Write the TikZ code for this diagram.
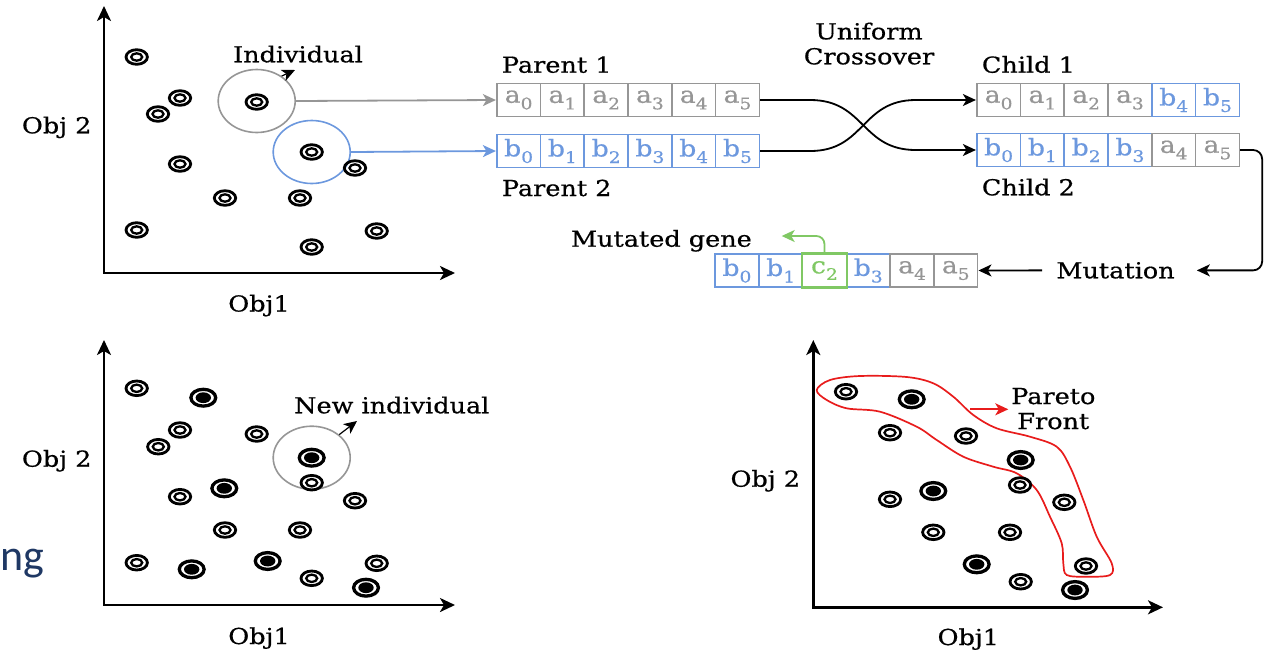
\documentclass[tikz,border=0pt]{standalone}
\usepackage{fontspec}
\setmainfont{DejaVu Serif}[FakeStretch=1.16,FakeBold=0.6]
\newfontfamily\slidefont{Carlito}
\usetikzlibrary{arrows.meta,shapes.geometric}

\definecolor{cellgray}{RGB}{150,150,150}
\definecolor{geneblue}{RGB}{108,152,222}
\definecolor{genegreen}{RGB}{128,200,100}
\definecolor{frontred}{RGB}{232,28,28}
\definecolor{slidenavy}{RGB}{31,56,100}

% gene label with a lowered index digit
\newcommand\gene[2]{#1\raisebox{-0.55ex}{\fontsize{16}{16}\selectfont #2}}

% one chromosome: name, left x, centre y, list of colour/letter/index
\newcommand\generow[4]{%
  \foreach \c/\l/\d [count=\i from 0] in {#4} {
    \node[cell, draw=\c, text=\c] (#1-\i) at ({#2+21.9+43.77*\i}, #3) {\gene{\l}{\d}};
  }}

\tikzset{
  tip/.style={-{Stealth[length=13pt,width=12pt,inset=3.5pt]}},
  axis/.style={line width=2.5pt, {Stealth[length=15pt,width=14pt,inset=4pt]}-{Stealth[length=15pt,width=14pt,inset=4pt]}},
  flow/.style={line width=1.8pt, tip},
  cell/.style={draw, line width=1.6pt, minimum width=43.8pt, minimum height=33pt, inner sep=0pt,
               font=\fontsize{23}{25}\selectfont},
  pick/.style={draw, ellipse, line width=1.6pt, minimum width=77pt, minimum height=63pt, inner sep=0pt},
  lbl/.style={inner sep=0pt},
  ringdot/.pic={
    \draw[line width=2.8pt] (0,0) ellipse [x radius=10.7, y radius=7.3];
    \draw[line width=2.3pt] (0,0) ellipse [x radius=5.5, y radius=3.7];},
  ringfill/.pic={
    \draw[line width=3.3pt] (0,0) ellipse [x radius=12.4, y radius=8.4];
    \fill (0,0) ellipse [x radius=7.7, y radius=5.4];},
}

\begin{document}
\begin{tikzpicture}[x=1pt,y=-1pt,font=\fontsize{22}{25}\selectfont]
\useasboundingbox (0,0) rectangle (1276,649);

% ---------- population before variation ----------
\coordinate (o1) at (104,273);
\coordinate (y1) at (104,6);
\coordinate (x1) at (455,273);
\draw[axis] (y1) -- (o1) -- (x1);
\node[lbl, anchor=base] (obj2a) at (56.7,133.3) {Obj 2};
\node[lbl, anchor=base] (obj1a) at (259,311.5) {Obj1};

\node[pick, draw=cellgray] (ind) at (256.7,101) {};
\node[pick, draw=geneblue] (mate) at (311.7,152) {};
\foreach \p in {(136.7,57),(180,98),(158,114),(256.7,102),(311.7,152),(355,168),
                (180,164),(225,198),(300,198),(136.7,230),(311.7,247),(376.7,231)}
  \pic at \p {ringdot};
\node[lbl, anchor=base] (indlbl) at (298,62.3) {Individual};
\coordinate (indtip) at (295,70);
\draw[line width=1.2pt, tip] (ind.45) -- (indtip);

% ---------- parents ----------
\node[lbl, anchor=base west] (p1lbl) at (501.7,72.7) {Parent 1};
\node[lbl, anchor=base west] (p2lbl) at (501.7,196) {Parent 2};
\generow{par1}{496.7}{100}{cellgray/a/0,cellgray/a/1,cellgray/a/2,cellgray/a/3,cellgray/a/4,cellgray/a/5}
\generow{par2}{496.7}{151}{geneblue/b/0,geneblue/b/1,geneblue/b/2,geneblue/b/3,geneblue/b/4,geneblue/b/5}
\draw[flow, cellgray] (ind.east) -- (par1-0.west);
\draw[flow, geneblue] (mate.east) -- (par2-0.west);

% ---------- crossover ----------
\node[lbl, align=center, anchor=base] (uxlbl) at (869,64.3) {Uniform\\Crossover};
\node[lbl, anchor=base west] (c1lbl) at (981.7,72.7) {Child 1};
\node[lbl, anchor=base west] (c2lbl) at (981.7,195.3) {Child 2};
\generow{chi1}{976.7}{100}{cellgray/a/0,cellgray/a/1,cellgray/a/2,cellgray/a/3,geneblue/b/4,geneblue/b/5}
\generow{chi2}{976.7}{150}{geneblue/b/0,geneblue/b/1,geneblue/b/2,geneblue/b/3,cellgray/a/4,cellgray/a/5}
\draw[flow] (par1-5.east) -- ++(50,0) .. controls +(55,0) and +(-55,0) .. ([xshift=-60pt]chi2-0.west) -- (chi2-0.west);
\draw[flow] (par2-5.east) -- ++(50,0) .. controls +(55,0) and +(-55,0) .. ([xshift=-60pt]chi1-0.west) -- (chi1-0.west);

% ---------- mutation ----------
\node[anchor=base, inner xsep=14pt, inner ysep=0pt] (mut) at (1115.5,278.3) {Mutation};
\generow{mrow}{715}{270.5}{geneblue/b/0,geneblue/b/1,genegreen/c/2,geneblue/b/3,cellgray/a/4,cellgray/a/5}
\draw[genegreen, line width=1.6pt] (mrow-2.south west) rectangle (mrow-2.north east);
\draw[flow, rounded corners=9pt] (chi2-5.east) -- ++(22,0) |- ([xshift=8pt]mut.east);
\draw[flow] (mut.west) -- (mrow-5.east);
\node[lbl, anchor=base east] (mglbl) at (752,246.7) {Mutated gene};
\coordinate (gtip) at (781.7,236);
\draw[line width=1.8pt, genegreen, rounded corners=8pt, tip] (mrow-2.north) |- (gtip);

% ---------- population after variation ----------
\coordinate (o2) at (104,605);
\coordinate (y2) at (104,340);
\coordinate (x2) at (455,605);
\draw[axis] (y2) -- (o2) -- (x2);
\node[lbl, anchor=base] (obj2b) at (56.7,466.7) {Obj 2};
\node[lbl, anchor=base] (obj1b) at (259,644) {Obj1};
\node[pick, draw=cellgray] (newind) at (311.7,457.7) {};
\foreach \p in {(136.7,388.3),(180,430),(158.3,446.7),(256.7,434),(311.7,482.7),(355,500.7),
                (180,496.7),(225,530),(300,530),(136.7,562.7),(311.7,578.3),(376.7,563.3)}
  \pic at \p {ringdot};
\foreach \p in {(203.3,397.7),(311.7,457.7),(224.3,488.3),(191.7,569.3),(267.7,561),(366,587.7)}
  \pic at \p {ringfill};
\node[lbl, anchor=base west] (newlbl) at (294,413.3) {New individual};
\coordinate (newtip) at (357,421);
\draw[line width=1.2pt, tip] (newind.40) -- (newtip);

% ---------- Pareto front ----------
\coordinate (o3) at (813.3,607.3);
\coordinate (y3) at (813.3,340);
\coordinate (x3) at (1163,607.3);
\draw[axis] (y3) -- (o3) -- (x3);
\node[lbl, anchor=base] (obj2c) at (765.3,486.7) {Obj 2};
\node[lbl, anchor=base] (obj1c) at (968.3,645) {Obj1};
\draw[frontred, line width=1.7pt] plot[smooth cycle, tension=0.55] coordinates {
  (816.7,390) (830,380) (860,376) (906.7,377) (933.3,383.3) (953.3,396.7) (973.3,415)
  (996.7,428.3) (1030,436.7) (1056.7,446.7) (1070,466.7) (1083.3,500) (1096.7,536.7)
  (1111.7,563.3) (1110,575) (1086.7,576.7) (1066.7,575) (1063.3,563.3) (1061.7,543.3)
  (1050,516.7) (1036.7,490) (1016.7,473.3) (993.3,466.7) (963.3,456.7) (936.7,440)
  (916.7,426.7) (880,411.7) (846.7,408.3) (826.7,400)};
\foreach \p in {(846,391.7),(890,432.7),(966,436),(1020,485),(1064.3,502.3),(890,499.3),
                (933.3,532.3),(1010,532.3),(1086,566),(1020.7,581.7)}
  \pic at \p {ringdot};
\foreach \p in {(911.7,399.3),(1020.7,460),(933.3,491),(976.7,564.3),(1075,590)}
  \pic at \p {ringfill};
\node[lbl, align=center, anchor=base] (pflbl) at (1053.3,429) {Pareto\\Front};
\coordinate (rfrom) at (970,409.3);
\coordinate (rtip) at (1008.3,409.3);
\draw[frontred, line width=1.8pt, tip] (rfrom) -- (rtip);

% ---------- slide text ----------
\node[anchor=base west, inner sep=0pt, font=\slidefont\fontsize{44}{44}\selectfont, text=slidenavy] (ng) at (0,570.7) {ng};
\end{tikzpicture}
\end{document}
